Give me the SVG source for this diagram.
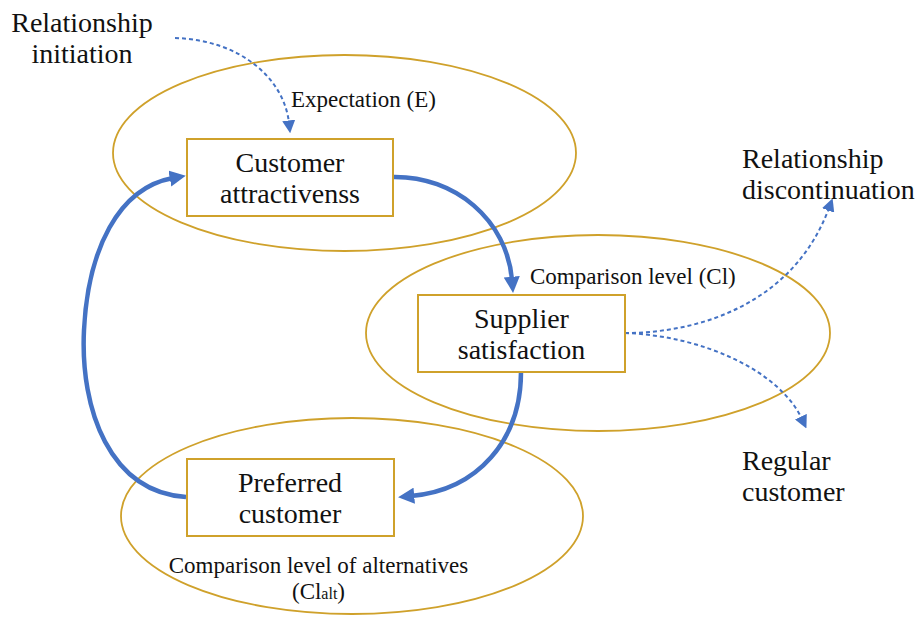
<svg xmlns="http://www.w3.org/2000/svg" width="919" height="617" viewBox="0 0 919 617">
  <style>
    .zone { fill: none; stroke: #CFA12B; stroke-width: 1.8; }
    .box { fill: #ffffff; stroke: #CFA12B; stroke-width: 2; }
    text { font-family: "Liberation Serif", serif; fill: #111; }
    .big { font-size: 28px; }
    .small { font-size: 23px; }
    .mid { text-anchor: middle; }
    .flow { fill: none; stroke: #4472C4; stroke-width: 4.5; }
    .dash { fill: none; stroke: #4472C4; stroke-width: 2; stroke-dasharray: 4 3; }
  </style>
  <defs>
    <marker id="headBig" viewBox="0 0 10 10" refX="2" refY="5" markerWidth="3.6" markerHeight="3.6" orient="auto" markerUnits="strokeWidth">
      <path d="M0,0 L10,5 L0,10 Z" fill="#4472C4"/>
    </marker>
    <marker id="headSmall" viewBox="0 0 10 10" refX="2" refY="5" markerWidth="6.5" markerHeight="6.5" orient="auto" markerUnits="strokeWidth">
      <path d="M0,0 L10,5 L0,10 Z" fill="#4472C4"/>
    </marker>
  </defs>

  <rect width="919" height="617" fill="#ffffff"/>

  <!-- comparison zones -->
  <g id="zones">
    <ellipse class="zone" cx="344.5" cy="153" rx="231.5" ry="98"/>
    <ellipse class="zone" cx="598" cy="333" rx="232" ry="98"/>
    <ellipse class="zone" cx="352" cy="516" rx="231" ry="98"/>
  </g>

  <!-- connectors -->
  <g id="connectors">
    <path class="dash" marker-end="url(#headSmall)" d="M175,38 C240,40 284,78 289,123"/>
    <path class="flow" marker-end="url(#headBig)" d="M393,177 C455,176 507,220 512,280"/>
    <path class="flow" marker-end="url(#headBig)" d="M521,372 C521,440 478,490 411,496"/>
    <path class="flow" marker-end="url(#headBig)" d="M186,497 C110,492 80,410 84,330 C88,250 118,188 173,178"/>
    <path class="dash" marker-end="url(#headSmall)" d="M625,333 C705,333 795,300 829,208"/>
    <path class="dash" marker-end="url(#headSmall)" d="M625,333 C705,336 780,372 802,419"/>
  </g>

  <!-- nodes -->
  <g id="customer-attractiveness">
    <rect class="box" x="187" y="139" width="206" height="77"/>
    <text class="big mid" x="290" y="172">Customer</text>
    <text class="big mid" x="290" y="203">attractivenss</text>
  </g>
  <g id="supplier-satisfaction">
    <rect class="box" x="418" y="295" width="207" height="77"/>
    <text class="big mid" x="521.5" y="328">Supplier</text>
    <text class="big mid" x="521.5" y="359">satisfaction</text>
  </g>
  <g id="preferred-customer">
    <rect class="box" x="187" y="459" width="207" height="77"/>
    <text class="big mid" x="290" y="492">Preferred</text>
    <text class="big mid" x="290" y="523">customer</text>
  </g>

  <g id="relationship-initiation">
    <text class="big mid" x="82" y="32">Relationship</text>
    <text class="big mid" x="82" y="63">initiation</text>
  </g>
  <g id="relationship-discontinuation">
    <text class="big" x="742" y="168">Relationship</text>
    <text class="big" x="742" y="199">discontinuation</text>
  </g>
  <g id="regular-customer">
    <text class="big" x="742" y="470">Regular</text>
    <text class="big" x="742" y="501">customer</text>
  </g>

  <!-- zone labels -->
  <g id="zone-labels">
    <text class="small" x="291" y="107">Expectation (E)</text>
    <text class="small" x="530" y="284">Comparison level (Cl)</text>
    <text class="small mid" x="318.5" y="573">Comparison level of alternatives</text>
    <text class="small mid" x="318.5" y="599">(Cl<tspan font-size="16px">alt</tspan>)</text>
  </g>
</svg>
